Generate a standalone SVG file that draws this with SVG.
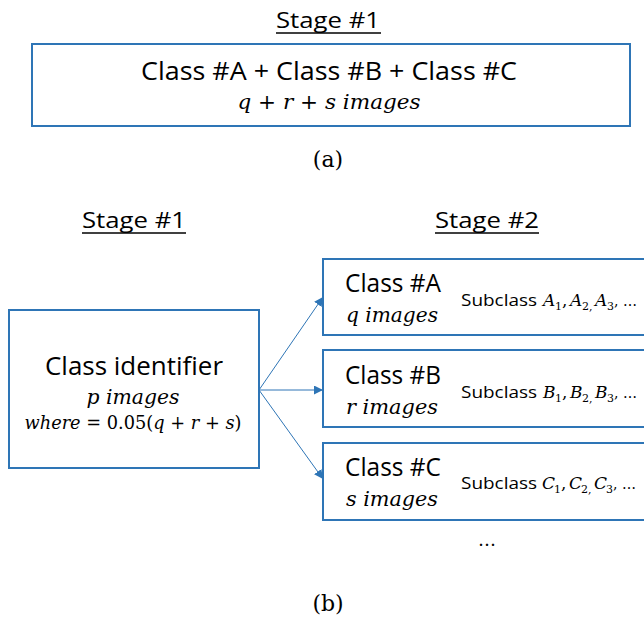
<svg xmlns="http://www.w3.org/2000/svg" width="644" height="624" viewBox="0 0 644 624">
<defs>
<style>
.box{fill:#fff;stroke:#2e75b6;stroke-width:2}
.sans{font-family:"Open Sans","Liberation Sans",sans-serif;fill:#000}
.math{font-family:"DejaVu Serif","Liberation Serif",serif;font-style:italic;fill:#000}
.mr{font-family:"DejaVu Serif","Liberation Serif",serif;font-style:normal;fill:#000}
.sub{font-family:"DejaVu Serif","Liberation Serif",serif;font-style:normal;font-size:11px;fill:#000}
.conn{stroke:#2e75b6;stroke-width:1;fill:none}
.ul{stroke:#000;stroke-width:1.5}
</style>
<marker id="ah" viewBox="0 0 10 10" refX="10" refY="5" markerWidth="9" markerHeight="9" markerUnits="userSpaceOnUse" orient="auto">
<path d="M0,0 L10,5 L0,10 z" fill="#2e75b6"/>
</marker>
</defs>

<g id="stage1-title-a">
<text class="sans" x="328" y="28" font-size="22" text-anchor="middle" textLength="104" lengthAdjust="spacingAndGlyphs">Stage #1</text>
<line class="ul" x1="276" y1="33" x2="381" y2="33"/>
</g>

<g id="node-all">
<rect class="box" x="32" y="44" width="598" height="82"/>
<text class="sans" x="329" y="80" font-size="25" text-anchor="middle" textLength="376" lengthAdjust="spacingAndGlyphs">Class #A + Class #B + Class #C</text>
<text class="math" x="329" y="109" font-size="20" text-anchor="middle" textLength="183" lengthAdjust="spacingAndGlyphs">q <tspan class="mr">+</tspan> r <tspan class="mr">+</tspan> s images</text>
</g>

<text class="mr" x="328" y="167" font-size="22" text-anchor="middle">(a)</text>

<g id="stage1-title-b">
<text class="sans" x="134" y="228" font-size="22" text-anchor="middle" textLength="104" lengthAdjust="spacingAndGlyphs">Stage #1</text>
<line class="ul" x1="82" y1="233" x2="186" y2="233"/>
</g>
<g id="stage2-title">
<text class="sans" x="487" y="228" font-size="22" text-anchor="middle" textLength="104" lengthAdjust="spacingAndGlyphs">Stage #2</text>
<line class="ul" x1="435" y1="233" x2="539" y2="233"/>
</g>

<g id="node-identifier">
<rect class="box" x="9" y="310" width="250" height="158"/>
<text class="sans" x="134" y="375" font-size="25" text-anchor="middle" textLength="178" lengthAdjust="spacingAndGlyphs">Class identifier</text>
<text class="math" x="133" y="404" font-size="20" text-anchor="middle" textLength="93" lengthAdjust="spacingAndGlyphs">p images</text>
<text class="math" x="133" y="429" font-size="18" text-anchor="middle" textLength="217" lengthAdjust="spacingAndGlyphs">where <tspan class="mr">= 0.05(</tspan>q <tspan class="mr">+</tspan> r <tspan class="mr">+</tspan> s<tspan class="mr">)</tspan></text>
</g>

<g id="node-classA">
<rect class="box" x="323" y="259" width="330" height="76"/>
<text class="sans" x="345" y="292" font-size="25" textLength="96" lengthAdjust="spacingAndGlyphs">Class #A</text>
<text class="math" x="346" y="322" font-size="20" textLength="92" lengthAdjust="spacingAndGlyphs">q images</text>
<text class="sans" x="461" y="306" font-size="17" textLength="76" lengthAdjust="spacingAndGlyphs">Subclass</text>
<text class="math" font-size="17" y="306"><tspan x="543">A</tspan><tspan class="sub" x="555" y="310">1</tspan><tspan class="mr" x="562" y="306">,</tspan><tspan x="570">A</tspan><tspan class="sub" x="582" y="310">2,</tspan><tspan x="595" y="306">A</tspan><tspan class="sub" x="607" y="310">3</tspan><tspan class="mr" x="614" y="306" font-size="14">, …</tspan></text>
</g>

<g id="node-classB">
<rect class="box" x="323" y="350" width="330" height="77"/>
<text class="sans" x="345" y="384" font-size="25" textLength="96" lengthAdjust="spacingAndGlyphs">Class #B</text>
<text class="math" x="346" y="414" font-size="20" textLength="92" lengthAdjust="spacingAndGlyphs">r images</text>
<text class="sans" x="461" y="398" font-size="17" textLength="76" lengthAdjust="spacingAndGlyphs">Subclass</text>
<text class="math" font-size="17" y="398"><tspan x="543">B</tspan><tspan class="sub" x="555" y="402">1</tspan><tspan class="mr" x="562" y="398">,</tspan><tspan x="570">B</tspan><tspan class="sub" x="582" y="402">2,</tspan><tspan x="595" y="398">B</tspan><tspan class="sub" x="607" y="402">3</tspan><tspan class="mr" x="614" y="398" font-size="14">, …</tspan></text>
</g>

<g id="node-classC">
<rect class="box" x="323" y="443" width="330" height="77"/>
<text class="sans" x="345" y="476" font-size="25" textLength="96" lengthAdjust="spacingAndGlyphs">Class #C</text>
<text class="math" x="346" y="506" font-size="20" textLength="92" lengthAdjust="spacingAndGlyphs">s images</text>
<text class="sans" x="461" y="489" font-size="17" textLength="76" lengthAdjust="spacingAndGlyphs">Subclass</text>
<text class="math" font-size="17" y="489"><tspan x="542">C</tspan><tspan class="sub" x="554" y="493">1</tspan><tspan class="mr" x="561" y="489">,</tspan><tspan x="569">C</tspan><tspan class="sub" x="581" y="493">2,</tspan><tspan x="594" y="489">C</tspan><tspan class="sub" x="606" y="493">3</tspan><tspan class="mr" x="613" y="489" font-size="14">, …</tspan></text>
</g>

<text class="mr" x="487" y="546" font-size="18" text-anchor="middle">…</text>
<text class="mr" x="328" y="611" font-size="22" text-anchor="middle">(b)</text>

<g id="connectors">
<line class="conn" x1="259" y1="390" x2="323" y2="297" marker-end="url(#ah)"/>
<line class="conn" x1="259" y1="390" x2="323" y2="390" marker-end="url(#ah)"/>
<line class="conn" x1="259" y1="390" x2="323" y2="479" marker-end="url(#ah)"/>
</g>
</svg>
